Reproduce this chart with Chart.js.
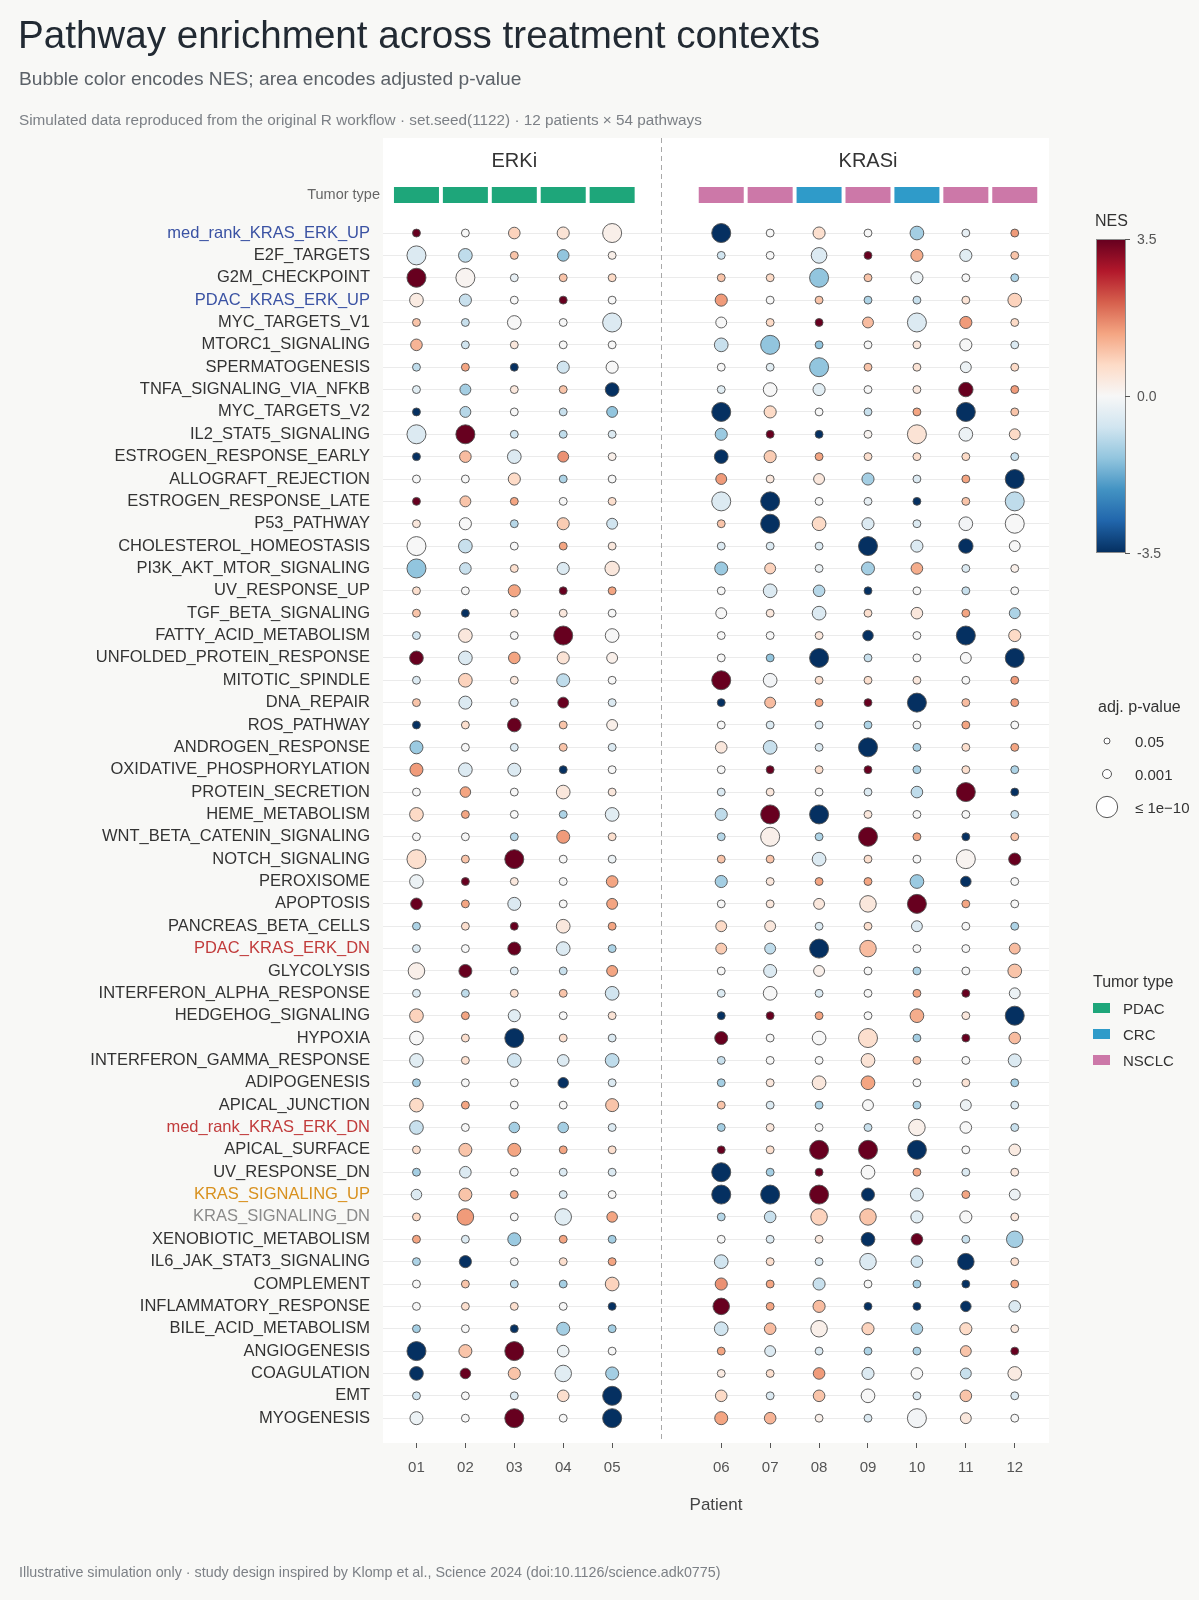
<!DOCTYPE html>
<html>
<head>
<meta charset="utf-8">
<script src="https://cdn.jsdelivr.net/npm/chart.js@4.4.1/dist/chart.umd.min.js"></script>
<style>
  html, body { margin: 0; padding: 0; background: #f8f8f6; }
  body { width: 1199px; height: 1600px; position: relative; overflow: hidden;
         font-family: "Liberation Sans", Arial, Helvetica, sans-serif; }
  #c { position: absolute; left: 0; top: 0; }
  .t { position: absolute; white-space: nowrap; line-height: 1; }
</style>
</head>
<body>
<canvas id="c" width="1199" height="1600"></canvas>

<div class="t" style="left:18px;top:16px;font-size:38.6px;color:#222a33;">Pathway enrichment across treatment contexts</div>
<div class="t" style="left:19px;top:69px;font-size:19.2px;color:#5b6168;">Bubble color encodes NES; area encodes adjusted p-value</div>
<div class="t" style="left:19px;top:112px;font-size:15.3px;color:#7c8086;">Simulated data reproduced from the original R workflow · set.seed(1122) · 12 patients × 54 pathways</div>
<div class="t" style="left:19px;top:1565px;font-size:14.3px;color:#7c8086;">Illustrative simulation only · study design inspired by Klomp et al., Science 2024 (doi:10.1126/science.adk0775)</div>

<div id="legends"></div>

<script>
// ---------------- data ----------------
const pathways = [
  "med_rank_KRAS_ERK_UP","E2F_TARGETS","G2M_CHECKPOINT","PDAC_KRAS_ERK_UP","MYC_TARGETS_V1",
  "MTORC1_SIGNALING","SPERMATOGENESIS","TNFA_SIGNALING_VIA_NFKB","MYC_TARGETS_V2","IL2_STAT5_SIGNALING",
  "ESTROGEN_RESPONSE_EARLY","ALLOGRAFT_REJECTION","ESTROGEN_RESPONSE_LATE","P53_PATHWAY","CHOLESTEROL_HOMEOSTASIS",
  "PI3K_AKT_MTOR_SIGNALING","UV_RESPONSE_UP","TGF_BETA_SIGNALING","FATTY_ACID_METABOLISM","UNFOLDED_PROTEIN_RESPONSE",
  "MITOTIC_SPINDLE","DNA_REPAIR","ROS_PATHWAY","ANDROGEN_RESPONSE","OXIDATIVE_PHOSPHORYLATION",
  "PROTEIN_SECRETION","HEME_METABOLISM","WNT_BETA_CATENIN_SIGNALING","NOTCH_SIGNALING","PEROXISOME",
  "APOPTOSIS","PANCREAS_BETA_CELLS","PDAC_KRAS_ERK_DN","GLYCOLYSIS","INTERFERON_ALPHA_RESPONSE",
  "HEDGEHOG_SIGNALING","HYPOXIA","INTERFERON_GAMMA_RESPONSE","ADIPOGENESIS","APICAL_JUNCTION",
  "med_rank_KRAS_ERK_DN","APICAL_SURFACE","UV_RESPONSE_DN","KRAS_SIGNALING_UP","KRAS_SIGNALING_DN",
  "XENOBIOTIC_METABOLISM","IL6_JAK_STAT3_SIGNALING","COMPLEMENT","INFLAMMATORY_RESPONSE","BILE_ACID_METABOLISM",
  "ANGIOGENESIS","COAGULATION","EMT","MYOGENESIS"
];
const patients  = ["01","02","03","04","05","06","07","08","09","10","11","12"];
const treatment = ["ERKi","ERKi","ERKi","ERKi","ERKi","KRASi","KRASi","KRASi","KRASi","KRASi","KRASi","KRASi"];
const tumorType = ["PDAC","PDAC","PDAC","PDAC","PDAC","NSCLC","NSCLC","CRC","NSCLC","CRC","NSCLC","NSCLC"];
const tumorTypes = ["PDAC","CRC","NSCLC"];
const highlightedSets = {
  "med_rank_KRAS_ERK_UP":"up","PDAC_KRAS_ERK_UP":"up",
  "PDAC_KRAS_ERK_DN":"dn","med_rank_KRAS_ERK_DN":"dn",
  "KRAS_SIGNALING_UP":"hallUp","KRAS_SIGNALING_DN":"hallDn"
};

// NES, one row per pathway (columns = patients 01..12)
const nes = [
  [ 3.6, 0.0, 0.8, 0.5, 0.2,-3.7, 0.0, 0.6, 0.0,-1.2,-0.3, 1.5],
  [-0.5,-0.9, 1.0,-1.4, 0.2,-0.7, 0.0,-0.5, 3.6, 1.3,-0.4, 1.0],
  [ 3.6, 0.1,-0.3, 1.0, 0.7, 1.0, 0.7,-1.4, 1.0,-0.2, 0.0,-1.1],
  [ 0.3,-0.8, 0.0, 3.6, 0.0, 1.5, 0.0, 1.0,-1.1,-0.8, 0.5, 0.8],
  [ 1.0,-0.8, 0.0, 0.0,-0.5, 0.0, 0.7, 3.6, 1.1,-0.5, 1.5, 0.7],
  [ 1.2,-0.7, 0.4, 0.0, 0.0,-0.8,-1.4,-1.4, 0.0, 0.4, 0.0,-0.5],
  [-0.9, 1.4,-3.6,-0.7, 0.0, 0.0,-0.4,-1.4, 1.0, 0.5,-0.2, 0.7],
  [-0.4,-1.2, 0.4, 1.0,-3.6,-0.4, 0.0,-0.4, 0.0, 0.4, 3.6, 1.5],
  [-3.6,-1.0, 0.0,-0.8,-1.4,-3.7, 0.7, 0.0,-0.8, 1.4,-3.7, 1.0],
  [-0.5, 3.6,-0.7,-0.9,-0.5,-1.3, 3.6,-3.6, 0.1, 0.5,-0.2, 0.7],
  [-3.6, 1.1,-0.5, 1.6, 0.2,-3.6, 0.9, 1.4, 0.6, 0.6, 0.7,-0.8],
  [ 0.0, 0.0, 0.7,-1.1, 0.0, 1.5, 0.4, 0.4,-1.2,-0.5, 1.4,-3.7],
  [ 3.6, 1.0, 1.4, 0.0, 0.6,-0.5,-3.7, 0.0,-0.3,-3.6, 1.0,-0.9],
  [ 0.4, 0.0,-1.0, 0.9,-0.7, 1.0,-3.7, 0.7,-0.5,-0.5,-0.1, 0.0],
  [ 0.0,-0.8, 0.0, 1.4, 0.4,-0.5,-0.5,-0.5,-3.7,-0.5,-3.6, 0.0],
  [-1.4,-0.8, 0.6,-0.5, 0.4,-1.3, 0.8,-0.2,-1.2, 1.3,-0.5, 0.2],
  [ 0.6, 0.0, 1.4, 3.6, 1.4, 0.0,-0.5,-1.0,-3.6, 0.0,-0.8, 0.0],
  [ 1.0,-3.6, 0.4, 0.4, 0.0, 0.0, 0.4,-0.5, 0.6, 0.4, 1.4,-1.1],
  [-0.7, 0.4, 0.0, 3.6, 0.0, 0.0, 0.0, 0.4,-3.6, 0.0,-3.7, 0.7],
  [ 3.6,-0.5, 1.4, 0.5, 0.2, 0.0,-1.4,-3.7,-0.8, 0.0, 0.0,-3.7],
  [-0.5, 0.8, 0.4,-0.9, 0.0, 3.6,-0.1, 0.6, 0.6, 0.4, 0.0, 1.5],
  [ 1.0,-0.5,-0.5, 3.6,-0.5,-3.6, 1.1, 1.4, 3.6,-3.7, 1.1, 1.5],
  [-3.6, 0.6, 3.6, 1.0, 0.2, 0.0,-0.5,-0.5,-1.1, 0.0, 1.4, 0.0],
  [-1.3, 0.0,-0.5, 1.0,-0.5, 0.4,-0.8,-0.5,-3.7,-1.1, 0.6, 1.4],
  [ 1.5,-0.5,-0.5,-3.6, 0.0, 0.0, 3.6, 0.6, 3.6,-1.1, 0.6,-1.1],
  [ 0.0, 1.4, 0.0, 0.4, 0.4,-0.5, 0.4, 0.0,-0.5,-0.9, 3.6,-3.6],
  [ 0.7, 1.4, 0.0,-1.1,-0.4,-0.9, 3.6,-3.7, 0.4, 0.0, 0.0,-0.8],
  [ 0.0, 0.0,-1.0, 1.5, 0.6,-1.0, 0.2,-1.1, 3.6, 1.4,-3.6, 1.0],
  [ 0.6, 1.0, 3.6, 0.0,-0.2, 1.0, 1.0,-0.5, 0.6, 0.0, 0.1, 3.6],
  [-0.2, 3.6, 0.4, 0.0, 1.4,-1.2, 0.4, 1.4, 1.4,-1.3,-3.6, 0.0],
  [ 3.6, 1.4,-0.5, 0.0, 1.4, 0.0, 0.4, 0.4, 0.4, 3.6, 1.4, 0.0],
  [-1.1, 0.6, 3.6, 0.4, 1.4, 0.7, 0.4,-0.5, 0.6,-0.5, 0.0,-1.1],
  [-0.5, 0.0, 3.6,-0.5,-1.1, 0.9,-0.9,-3.7, 1.1, 0.0, 0.0, 1.1],
  [ 0.2, 3.6,-0.5,-0.8, 1.4, 0.0,-0.5, 0.2, 0.0,-1.1, 0.0, 1.0],
  [-0.5,-0.9, 0.6, 1.0,-0.7,-0.5, 0.0,-0.5, 0.0, 1.4, 3.6,-0.2],
  [ 0.8, 1.4,-0.4, 0.0, 0.5,-3.6, 3.6, 1.4, 0.0, 1.3, 0.4,-3.7],
  [ 0.0, 0.6,-3.7, 0.6,-0.5, 3.6, 0.0, 0.0, 0.6,-1.2, 3.6, 1.1],
  [-0.4, 0.6,-0.7,-0.5,-0.9,-0.8, 0.0, 0.0, 0.5, 1.0, 0.0,-0.5],
  [-1.2, 0.0, 0.0,-3.6,-0.5,-1.2, 0.4, 0.4, 1.4, 0.0, 0.5,-1.2],
  [ 0.7, 1.4, 0.0, 0.0, 1.0, 1.0,-0.5,-1.1, 0.0,-1.1,-0.2,-0.5],
  [-0.8, 0.0,-1.2,-1.2,-0.5,-1.2, 0.4, 0.0,-0.8, 0.2, 0.0,-0.8],
  [ 0.6, 1.0, 1.4, 1.4, 0.6, 3.6, 0.6, 3.6, 3.6,-3.7, 0.0, 0.3],
  [-1.2,-0.5, 0.0,-0.5,-0.5,-3.7,-1.2, 3.6, 0.0, 1.4,-0.5, 0.4],
  [-0.5, 1.0, 1.4,-0.5, 0.0,-3.7,-3.7, 3.6,-3.6,-0.5, 1.4,-0.2],
  [ 0.7, 1.5, 0.0,-0.4, 1.4,-1.0,-0.8, 0.8, 1.0,-0.4, 0.0, 0.4],
  [ 1.4,-0.5,-1.3, 1.4,-1.2, 0.0,-0.5, 0.4,-3.7, 3.6,-0.8,-1.2],
  [-1.1,-3.7, 0.0, 0.6, 1.4,-0.7, 0.6,-0.5,-0.5,-0.7,-3.7, 0.6],
  [ 0.0, 1.0,-0.9,-1.2, 0.8, 1.6, 1.4,-0.8, 0.0,-1.2,-3.6, 1.4],
  [ 0.0, 0.6, 0.6, 0.0,-3.6, 3.6, 1.4, 1.1,-3.6,-3.6,-3.6,-0.5],
  [-1.2, 0.0,-3.6,-1.2,-1.2,-0.7, 1.1, 0.2, 0.8,-1.1, 0.7, 0.4],
  [-3.7, 1.0, 3.6,-0.2, 0.0, 1.4,-0.5,-0.5,-1.1,-1.1, 1.0, 3.6],
  [-3.7, 3.6, 1.0,-0.4,-1.2, 0.3, 0.6, 1.5,-0.5, 0.0,-0.8, 0.3],
  [-0.7, 0.0,-0.5, 0.6,-3.7, 0.7,-0.5, 1.0, 0.0,-0.5, 1.0,-0.5],
  [-0.2, 0.0, 3.6, 0.0,-3.7, 1.4, 1.2, 0.2,-0.5,-0.1, 0.4, 0.0]
];

// -log10(adjusted p-value), one row per pathway (columns = patients 01..12)
const negLog10Padj = [
  [2.4,2.4,4.5,4.8,8.7,8.7,2.4,4.8,2.4,5.7,2.4,2.4],
  [8.7,5.7,2.4,4.5,2.4,2.4,2.4,6.8,2.4,4.8,4.8,2.4],
  [8.7,8.7,2.4,2.4,2.4,2.4,2.4,8.7,2.4,4.8,2.4,2.4],
  [5.7,4.8,2.4,2.4,2.4,4.8,2.4,2.4,2.4,2.4,2.4,5.7],
  [2.4,2.4,5.7,2.4,8.7,4.1,2.4,2.4,4.1,8.7,4.8,2.4],
  [4.5,2.4,2.4,2.4,2.4,5.7,8.7,2.4,2.4,2.4,4.8,2.4],
  [2.4,2.4,2.4,4.8,4.8,2.4,2.4,8.7,2.4,2.4,4.1,2.4],
  [2.4,4.1,2.4,2.4,5.7,2.4,5.7,4.8,2.4,2.4,6.1,2.4],
  [2.4,4.1,2.4,2.4,4.1,8.7,4.8,2.4,2.4,2.4,8.7,2.4],
  [8.7,8.7,2.4,2.4,2.4,4.8,2.4,2.4,2.4,8.7,5.7,4.1],
  [2.4,4.5,5.7,4.1,2.4,5.7,4.8,2.4,2.4,2.4,2.4,2.4],
  [2.4,2.4,4.8,2.4,2.4,4.1,2.4,4.1,4.8,2.4,2.4,8.7],
  [2.4,4.1,2.4,2.4,2.4,8.7,8.7,2.4,2.4,2.4,2.4,8.7],
  [2.4,4.8,2.4,4.8,4.1,2.4,8.7,5.7,4.8,2.4,5.7,8.7],
  [8.7,5.7,2.4,2.4,2.4,2.4,2.4,2.4,8.7,4.8,6.1,4.1],
  [8.7,4.5,2.4,4.8,6.1,5.3,4.1,2.4,5.3,4.5,2.4,2.4],
  [2.4,2.4,4.8,2.4,2.4,2.4,5.7,4.5,2.4,2.4,2.4,2.4],
  [2.4,2.4,2.4,2.4,2.4,4.1,2.4,5.7,2.4,4.5,2.4,4.1],
  [2.4,5.7,2.4,8.7,5.7,2.4,2.4,2.4,3.9,2.4,8.7,4.8],
  [5.7,5.7,4.5,4.8,4.1,2.4,2.4,8.7,2.4,2.4,4.1,8.7],
  [2.4,5.7,2.4,5.3,2.4,8.7,5.7,2.4,2.4,2.4,2.4,2.4],
  [2.4,5.3,2.4,4.1,2.4,2.4,4.1,2.4,2.4,8.7,2.4,2.4],
  [2.4,2.4,5.7,2.4,4.1,2.4,2.4,2.4,2.4,2.4,2.4,2.4],
  [5.3,2.4,2.4,2.4,2.4,4.5,5.7,2.4,8.7,2.4,2.4,2.4],
  [5.3,5.7,5.3,2.4,2.4,2.4,2.4,2.4,2.4,2.4,2.4,2.4],
  [2.4,3.9,2.4,5.7,2.4,2.4,2.4,2.4,2.4,4.5,8.7,2.4],
  [5.7,2.4,2.4,2.4,5.7,4.8,8.7,8.7,2.4,2.4,2.4,2.4],
  [2.4,2.4,2.4,5.3,2.4,2.4,8.7,2.4,8.7,2.4,2.4,2.4],
  [8.7,2.4,8.7,2.4,2.4,2.4,2.4,5.7,2.4,2.4,8.7,4.8],
  [5.7,2.4,2.4,2.4,4.5,4.8,2.4,2.4,2.4,5.7,3.9,2.4],
  [4.5,2.4,5.3,2.4,4.1,2.4,2.4,4.1,7.3,8.7,2.4,2.4],
  [2.4,2.4,2.4,5.7,2.4,4.1,4.1,2.4,2.4,4.1,2.4,2.4],
  [2.4,2.4,5.3,5.7,2.4,4.1,4.1,8.7,7.3,2.4,2.4,4.1],
  [7.3,5.3,2.4,2.4,4.1,2.4,5.3,4.1,2.4,2.4,2.4,5.7],
  [2.4,2.4,2.4,2.4,5.7,2.4,5.7,2.4,2.4,2.4,2.4,4.1],
  [5.7,2.4,4.8,2.4,2.4,2.4,2.4,2.4,2.4,5.7,2.4,8.7],
  [5.7,2.4,8.7,2.4,2.4,5.3,2.4,5.7,8.7,2.4,2.4,4.5],
  [5.7,2.4,5.7,4.5,5.7,2.4,2.4,2.4,5.7,2.4,2.4,5.3],
  [2.4,2.4,2.4,3.9,2.4,2.4,2.4,5.7,5.7,2.4,2.4,2.4],
  [5.7,2.4,2.4,2.4,5.3,2.4,2.4,2.4,4.1,2.4,4.1,2.4],
  [5.7,2.4,3.9,3.9,2.4,2.4,2.4,2.4,2.4,7.3,4.5,2.4],
  [2.4,5.3,5.3,2.4,2.4,2.4,2.4,8.7,8.7,8.7,2.4,4.5],
  [2.4,4.5,2.4,2.4,2.4,8.7,2.4,2.4,5.7,2.4,2.4,2.4],
  [3.9,5.3,2.4,2.4,2.4,8.7,8.7,8.7,5.3,5.3,2.4,4.1],
  [2.4,7.3,2.4,7.3,3.9,2.4,4.5,7.3,7.3,4.8,4.8,2.4],
  [2.4,2.4,5.3,2.4,2.4,2.4,2.4,2.4,5.7,4.5,2.4,7.3],
  [2.4,4.8,2.4,2.4,2.4,5.7,2.4,2.4,7.3,4.5,7.3,2.4],
  [2.4,2.4,2.4,2.4,5.7,4.8,2.4,4.8,2.4,2.4,2.4,2.4],
  [2.4,2.4,2.4,2.4,2.4,7.3,2.4,4.8,2.4,2.4,3.9,4.5],
  [2.4,2.4,2.4,5.3,2.4,5.7,4.5,7.3,4.8,4.5,4.8,2.4],
  [8.7,5.3,8.7,4.5,2.4,2.4,4.1,2.4,2.4,2.4,4.1,2.4],
  [5.7,3.9,4.8,7.3,5.3,2.4,2.4,4.5,4.8,4.5,4.1,5.7],
  [2.4,2.4,2.4,4.5,8.7,4.5,2.4,4.5,5.7,2.4,4.5,2.4],
  [5.3,2.4,8.7,2.4,8.7,5.3,4.5,2.4,2.4,8.7,4.1,2.4]
];

const nesTicks = [3.5, 0.0, -3.5];
const padjBreaks = [0.05, 0.001, 1e-10];
const padjBreakLabels = ["0.05", "0.001", "\u2264 1e\u221210"];

// ---------------- styling / layout ----------------
const FONT = '"Liberation Sans", Arial, Helvetica, sans-serif';
const RDBU = ['#053061','#2166ac','#4393c3','#92c5de','#d1e5f0','#f7f7f7','#fddbc7','#f4a582','#d6604d','#b2182b','#67001f'];
const NES_LIM = 3.5;
const tumorColors = { PDAC: '#1ea67a', CRC: '#2f9bc9', NSCLC: '#cc78a8' };
const labelColors = { up: '#3a52a3', dn: '#c13b3b', hallUp: '#d8911f', hallDn: '#8a8a8a' };
const facetOffset = { ERKi: 0, KRASi: 6.23 };

function hex2rgb(h) { return [1,3,5].map(i => parseInt(h.slice(i, i + 2), 16)); }
function nesColor(v) {
  const c = Math.max(-NES_LIM, Math.min(NES_LIM, v));
  const t = (c + NES_LIM) / (2 * NES_LIM) * (RDBU.length - 1);
  const i = Math.min(Math.floor(t), RDBU.length - 2), f = t - i;
  const a = hex2rgb(RDBU[i]), b = hex2rgb(RDBU[i + 1]);
  return 'rgb(' + a.map((x, k) => Math.round(x + (b[k] - x) * f)).join(',') + ')';
}
// radius scale: linear in -log10(padj), capped at 1e-10
function sizeRadius(v) { return 1.85 + 0.88 * Math.min(v, 10); }

// x position of each patient inside its treatment facet
const facetIndex = {};
const patientX = patients.map((p, i) => {
  const f = treatment[i];
  facetIndex[f] = (facetIndex[f] || 0) + 1;
  return facetOffset[f] + facetIndex[f];
});

const points = [];
pathways.forEach((pw, r) => {
  patients.forEach((p, c) => {
    points.push({ x: patientX[c], y: r, r: sizeRadius(negLog10Padj[r][c]), nes: nes[r][c] });
  });
});

const panelPlugin = {
  id: 'panel',
  beforeDraw(chart) {
    const { ctx, chartArea: a } = chart;
    ctx.save();
    ctx.fillStyle = '#ffffff';
    ctx.fillRect(a.left, a.top, a.right - a.left, a.bottom - a.top);
    ctx.restore();
  },
  beforeDatasetsDraw(chart) {
    const { ctx, chartArea: a, scales } = chart;
    const xs = scales.x;
    ctx.save();
    // facet separator
    const sepX = Math.round(xs.getPixelForValue((patientX[4] + patientX[5]) / 2 - 0.115)) + 0.5;
    ctx.strokeStyle = '#a8a8a8';
    ctx.lineWidth = 1;
    ctx.setLineDash([5, 4]);
    ctx.beginPath();
    ctx.moveTo(sepX, a.top);
    ctx.lineTo(sepX, a.bottom);
    ctx.stroke();
    ctx.setLineDash([]);
    // facet strip labels
    ctx.fillStyle = '#333333';
    ctx.font = '20px ' + FONT;
    ctx.textAlign = 'center';
    ctx.textBaseline = 'middle';
    Object.keys(facetOffset).forEach(f => {
      const xsF = patientX.filter((x, i) => treatment[i] === f).map(x => xs.getPixelForValue(x));
      ctx.fillText(f, (Math.min(...xsF) + Math.max(...xsF)) / 2, a.top + 23);
    });
    // tumor type annotation bar
    patients.forEach((p, i) => {
      const px = xs.getPixelForValue(patientX[i]);
      ctx.fillStyle = tumorColors[tumorType[i]];
      ctx.fillRect(px - 22.5, a.top + 49, 45, 16);
    });
    ctx.fillStyle = '#666666';
    ctx.font = '14.5px ' + FONT;
    ctx.textAlign = 'right';
    ctx.fillText('Tumor type', a.left - 3, a.top + 57);
    ctx.restore();
  }
};

new Chart(document.getElementById('c'), {
  type: 'bubble',
  data: {
    datasets: [{
      data: points,
      backgroundColor: c => nesColor(c.raw.nes),
      borderColor: '#505050',
      borderWidth: 0.9
    }]
  },
  options: {
    responsive: false,
    animation: false,
    events: [],
    layout: { padding: { left: 0, top: 138, right: 150, bottom: 0 } },
    plugins: { legend: { display: false }, tooltip: { enabled: false } },
    scales: {
      x: {
        type: 'linear',
        min: 0.316, max: 13.93,
        afterBuildTicks: s => { s.ticks = patientX.map(v => ({ value: v })); },
        afterFit: s => { s.height = 157; },
        ticks: {
          autoSkip: false, maxRotation: 0, padding: 11,
          color: '#555555', font: { family: FONT, size: 15 },
          callback: (v, i) => patients[i]
        },
        grid: { drawOnChartArea: false, drawTicks: true, tickLength: 5, color: '#555555', lineWidth: 1 },
        border: { display: false },
        title: { display: true, text: 'Patient', color: '#444444',
                 font: { family: FONT, size: 17 }, padding: { top: 0, bottom: 84 } }
      },
      y: {
        type: 'linear',
        reverse: true,
        min: -4.25, max: 54.11,
        afterBuildTicks: s => { s.ticks = pathways.map((p, i) => ({ value: i })); },
        afterFit: s => { s.width = 383; },
        ticks: {
          autoSkip: false, padding: 13,
          font: { family: FONT, size: 16.5 },
          color: c => labelColors[highlightedSets[pathways[c.tick.value]]] || '#333333',
          callback: v => pathways[v]
        },
        grid: { color: '#ebebeb', lineWidth: 1, drawTicks: false },
        border: { display: false }
      }
    }
  },
  plugins: [panelPlugin]
});

// ---------------- legends (HTML) ----------------
(function buildLegends() {
  const L = document.getElementById('legends');
  const add = (html) => { L.insertAdjacentHTML('beforeend', html); };
  const txt = (x, cy, size, color, s) =>
    add(`<div class="t" style="left:${x}px;top:${(cy - 0.49 * size).toFixed(1)}px;font-size:${size}px;color:${color};">${s}</div>`);

  // NES colour bar
  txt(1095, 221, 16, '#333', 'NES');
  const barTop = 239, barH = 314, barL = 1096, barW = 30;
  const grad = RDBU.slice().reverse().join(',');
  add(`<div style="position:absolute;left:${barL}px;top:${barTop}px;width:${barW}px;height:${barH}px;box-sizing:border-box;border:1px solid #8c8c8c;background:linear-gradient(to bottom,${grad});"></div>`);
  nesTicks.forEach(v => {
    const y = barTop + (NES_LIM - v) / (2 * NES_LIM) * barH;
    add(`<div style="position:absolute;left:${barL + barW - 1}px;top:${(y - 0.5).toFixed(1)}px;width:5px;height:1px;background:#555;"></div>`);
    txt(1137, y, 14, '#555', v.toFixed(1));
  });

  // adj. p-value size legend
  txt(1098, 707, 16, '#333', 'adj. p-value');
  const keyY = [741, 774, 807];
  let svg = '<svg style="position:absolute;left:1090px;top:720px;" width="40" height="110">';
  padjBreaks.forEach((p, i) => {
    const r = sizeRadius(-Math.log10(p));
    svg += `<circle cx="17" cy="${keyY[i] - 720}" r="${r.toFixed(2)}" fill="#ffffff" stroke="#555" stroke-width="1"/>`;
  });
  svg += '</svg>';
  add(svg);
  padjBreakLabels.forEach((s, i) => txt(1135, keyY[i], 15, '#333', s));

  // Tumor type legend
  txt(1093, 982, 16, '#333', 'Tumor type');
  const ttY = [1008, 1034, 1060];
  tumorTypes.forEach((t, i) => {
    add(`<div style="position:absolute;left:1093px;top:${ttY[i] - 5}px;width:17px;height:10px;background:${tumorColors[t]};"></div>`);
    txt(1123, ttY[i], 15, '#333', t);
  });
})();
</script>
</body>
</html>
